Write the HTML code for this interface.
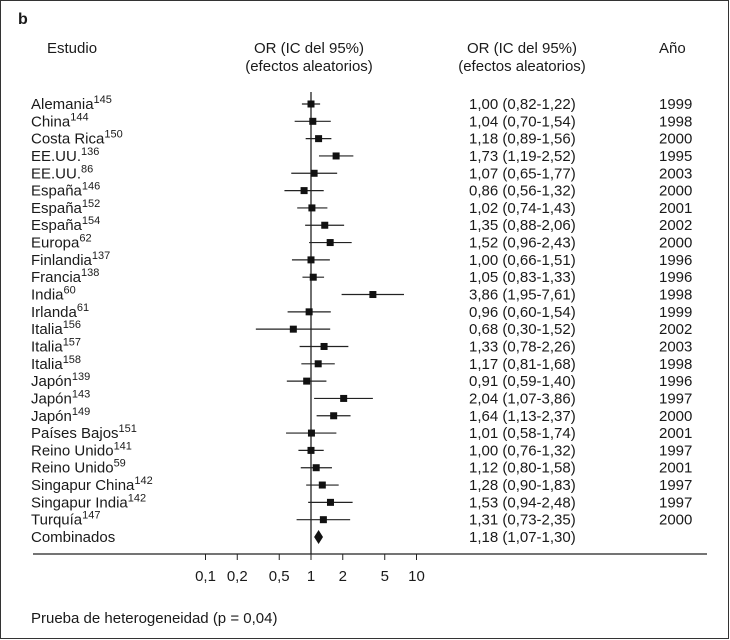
<!DOCTYPE html>
<html><head><meta charset="utf-8"><style>
html,body{margin:0;padding:0;background:#fff}
#c{position:relative;width:730px;height:640px;overflow:hidden}
svg text{font-family:"Liberation Sans Narrow","Liberation Sans",sans-serif;font-size:15px;fill:#1a1a1a}
</style></head><body>
<div id="c">
<svg id="s" width="730" height="640" xmlns="http://www.w3.org/2000/svg">
<rect x="0.5" y="0.5" width="728" height="638" fill="#fff" stroke="#333"/>
<text x="18" y="24" style="font-weight:bold;font-size:16px">b</text>
<text x="47" y="53">Estudio</text>
<text x="309" y="53" text-anchor="middle">OR (IC del 95%)</text>
<text x="309" y="71" text-anchor="middle">(efectos aleatorios)</text>
<text x="522" y="53" text-anchor="middle">OR (IC del 95%)</text>
<text x="522" y="71" text-anchor="middle">(efectos aleatorios)</text>
<text x="659" y="53">Año</text>
<text x="31" y="623">Prueba de heterogeneidad (p = 0,04)</text>
<g id="g"></g>
</svg>
</div>
<script>
const studies=["Alemania","China","Costa Rica","EE.UU.","EE.UU.","España","España","España","Europa","Finlandia","Francia","India","Irlanda","Italia","Italia","Italia","Japón","Japón","Japón","Países Bajos","Reino Unido","Reino Unido","Singapur China","Singapur India","Turquía"];
const refs=["145","144","150","136","86","146","152","154","62","137","138","60","61","156","157","158","139","143","149","151","141","59","142","142","147"];
const orVals=[1.00,1.04,1.18,1.73,1.07,0.86,1.02,1.35,1.52,1.00,1.05,3.86,0.96,0.68,1.33,1.17,0.91,2.04,1.64,1.01,1.00,1.12,1.28,1.53,1.31];
const lowVals=[0.82,0.70,0.89,1.19,0.65,0.56,0.74,0.88,0.96,0.66,0.83,1.95,0.60,0.30,0.78,0.81,0.59,1.07,1.13,0.58,0.76,0.80,0.90,0.94,0.73];
const highVals=[1.22,1.54,1.56,2.52,1.77,1.32,1.43,2.06,2.43,1.51,1.33,7.61,1.54,1.52,2.26,1.68,1.40,3.86,2.37,1.74,1.32,1.58,1.83,2.48,2.35];
const years=["1999","1998","2000","1995","2003","2000","2001","2002","2000","1996","1996","1998","1999","2002","2003","1998","1996","1997","2000","2001","1997","2001","1997","1997","2000"];
const pooled=[1.18,1.07,1.30];
const tickVals=[0.1,0.2,0.5,1,2,5,10];
const tickLabels=["0,1","0,2","0,5","1","2","5","10"];

const NS="http://www.w3.org/2000/svg";
const g=document.getElementById('g');
const xs=v=>311+105.5*Math.log10(v);
const ys=i=>104+i*17.32;
const AX=554;
function mk(t,a){const e=document.createElementNS(NS,t);for(const k in a)e.setAttribute(k,a[k]);g.appendChild(e);return e;}
const fmt=v=>v.toFixed(2).replace('.',',');

let e=mk('line',{x1:311,y1:92,x2:311,y2:AX,stroke:'#222','stroke-width':1.3});


e=mk('line',{x1:33,y1:AX,x2:707,y2:AX,stroke:'#222','stroke-width':1.3});


tickVals.forEach((v,i)=>{
  let t=mk('line',{x1:xs(v),y1:AX,x2:xs(v),y2:AX+6,stroke:'#222','stroke-width':1});
  
  
  let l=mk('text',{x:xs(v),y:AX+27,'text-anchor':'middle'});l.textContent=tickLabels[i];
  
  
});
studies.forEach((s,i)=>{
  const y=ys(i);
  let t=mk('text',{x:31,y:y+5});
  t.innerHTML=s+'<tspan dy="-6" style="font-size:11px">'+refs[i]+'</tspan>';
  
  
  let l=mk('line',{x1:xs(lowVals[i]),y1:y,x2:xs(highVals[i]),y2:y,stroke:'#222','stroke-width':1.2});
  
  
  let r=mk('rect',{x:xs(orVals[i])-3.5,y:y-3.5,width:7,height:7,fill:'#111'});
  
  
  let o=mk('text',{x:469,y:y+5});o.textContent=fmt(orVals[i])+' ('+fmt(lowVals[i])+'-'+fmt(highVals[i])+')';
  
  
  let yr=mk('text',{x:659,y:y+5});yr.textContent=years[i];
  
  
});
const yp=ys(studies.length);
let t=mk('text',{x:31,y:yp+5});t.textContent='Combinados';


let d=mk('polygon',{points:[xs(pooled[1])+',' +yp, xs(pooled[0])+','+(yp-7), xs(pooled[2])+','+yp, xs(pooled[0])+','+(yp+7)].join(' '),fill:'#111'});


let po=mk('text',{x:469,y:yp+5});po.textContent=fmt(pooled[0])+' ('+fmt(pooled[1])+'-'+fmt(pooled[2])+')';


</script>
</body></html>
